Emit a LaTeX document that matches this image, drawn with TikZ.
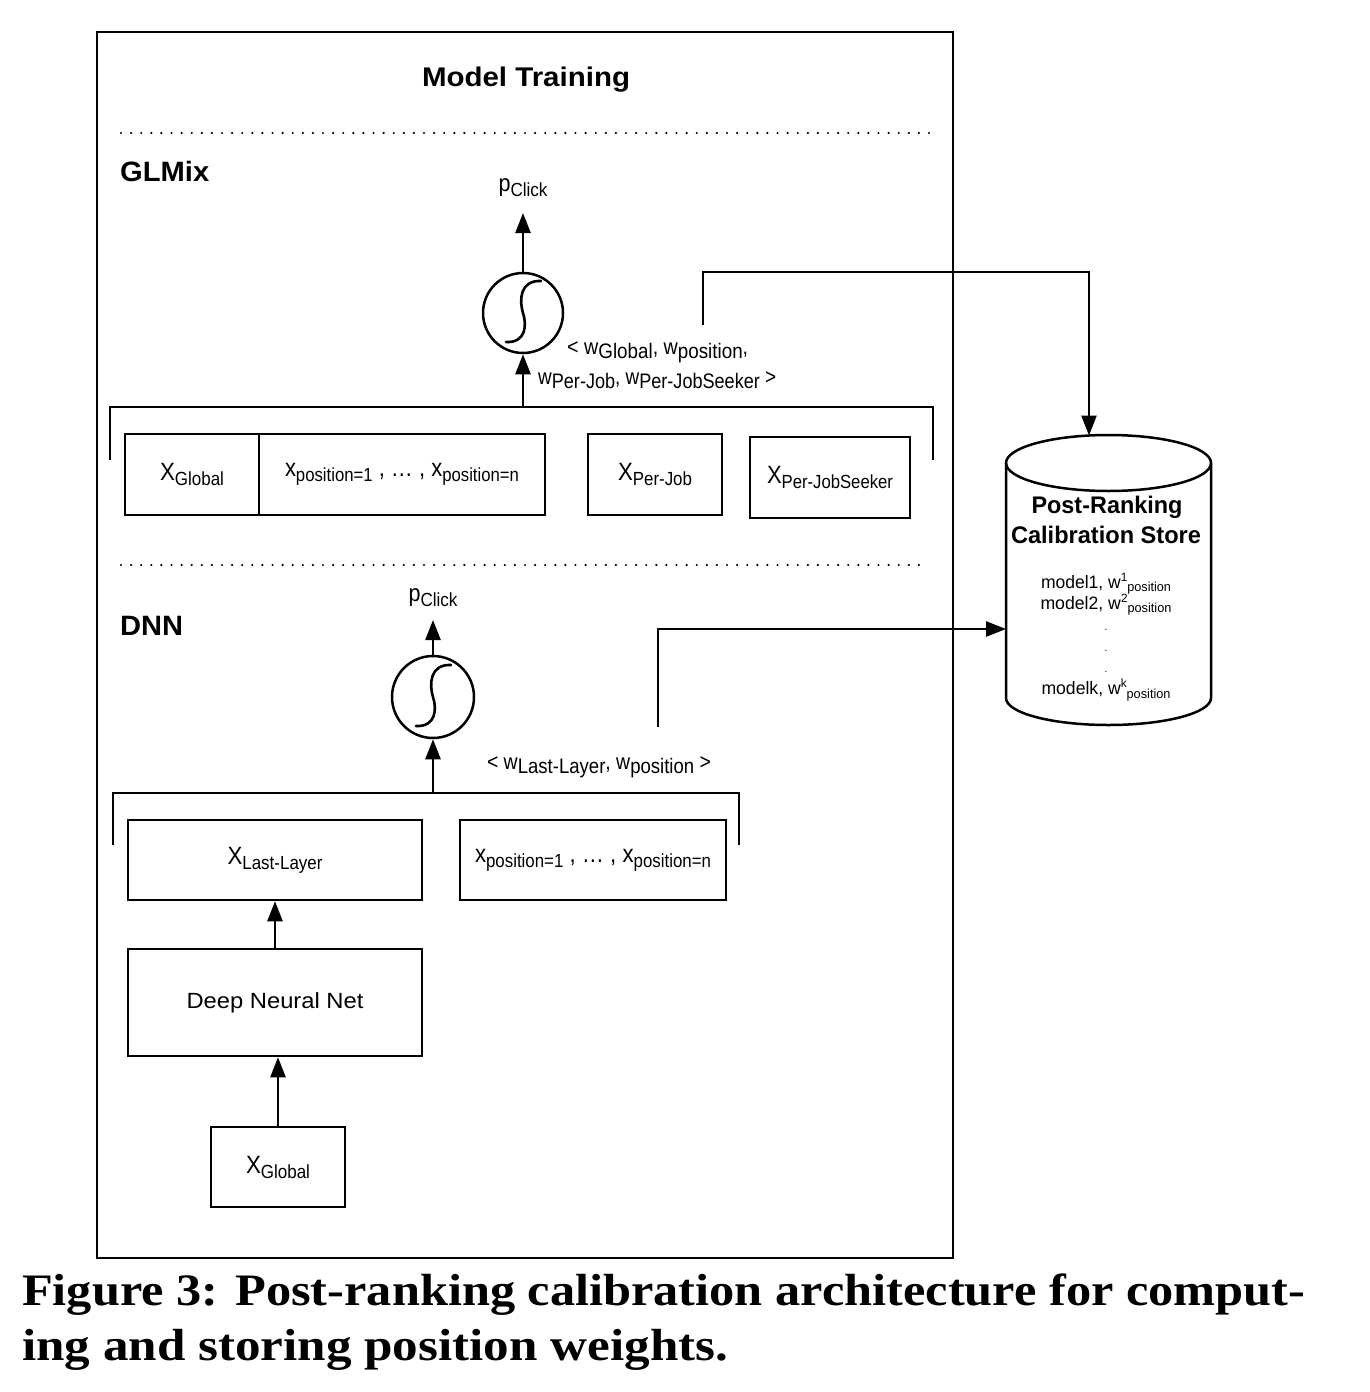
\documentclass[tikz,border=0pt]{standalone}
\usepackage{fontspec}
\usepackage{graphicx}
\setmainfont{Liberation Sans}
\newfontfamily\capfont{Liberation Serif}
\usetikzlibrary{arrows.meta}
\newcommand\fs[1]{\fontsize{#1}{#1}\selectfont}
\newcommand\fitw[2]{\resizebox{#1pt}{\height}{#2}}
\newcommand\lo[2][19]{\raisebox{-0.2em}{\fs{#1}#2}}
\newcommand\hi[2][12]{\raisebox{0.36em}{\fs{#1}#2}}
\begin{document}
\begin{tikzpicture}[x=1pt,y=-1pt,
  ln/.style={line width=2.5pt},
  box/.style={draw,line width=2.5pt,inner sep=0pt,minimum height=81pt},
  txt/.style={inner sep=0pt},
  arr/.style={line width=2.5pt,-{Triangle[length=20pt,width=15pt]}},
  dotline/.style={line width=2.4pt,line cap=round,dash pattern=on 0pt off 10.1pt},
  sig/.style={circle,draw,line width=2.5pt,minimum size=80pt,inner sep=0pt},
  scurve/.style={line width=2.6pt,line cap=round}]
\useasboundingbox (0,0) rectangle (1370,1392);
\fill[white] (0,0) rectangle (1370,1392);
% outer frame
\node[draw,line width=2.5pt,inner sep=0pt,minimum width=856pt,minimum height=1226pt] (outer) at (525,645) {};
\node[txt] (title) at (526,80) {\fitw{208}{\fs{27}\bfseries Model Training}};
\draw[dotline] (121,133) -- (935,133);
\draw[dotline] (121,565) -- (925,565);
% GLMix
\node[txt,anchor=west] (glmix) at (120,171) {\fitw{89}{\fs{28}\bfseries GLMix}};
\node[txt] (p1) at (523,188) {\fitw{49}{\fs{24}p\lo[19]{Click}}};
\node[sig] (s1) at (523,313) {};
\draw[scurve,shift={(s1.center)}] (-17,29) .. controls (3,30) and (4,12) .. (0,0) .. controls (-4,-13) and (-3,-33) .. (18,-32);
\draw[arr] (s1.north) -- ([yshift=-25pt]p1.center);
\draw[ln] (110,460) -- (110,407) -- (933,407) -- (933,460);
\coordinate (b1) at (523,407);
\draw[arr] (b1) -- (s1.south);
\node[txt,anchor=west] (l1a) at (567,352) {\fitw{181}{\fs{22}< w\lo[21]{Global}, w\lo[21]{position},}};
\node[txt,anchor=west] (l1b) at (538,380) {\fitw{238}{\fs{22}w\lo[21]{Per-Job}, w\lo[21]{Per-JobSeeker} >}};
\node[box,minimum width=134pt] (xg1) at (192,474.5) {\fitw{64}{\fs{25}X\lo{Global}}};
\node[box,minimum width=286pt] (xp1) at (402,474.5) {\fitw{234}{\fs{25}x\lo{position=1} , … , x\lo{position=n}}};
\node[box,minimum width=134pt] (xj) at (655,474.5) {\fitw{74}{\fs{25}X\lo{Per-Job}}};
\node[box,minimum width=160pt] (xs) at (830,477.5) {\fitw{126}{\fs{25}X\lo{Per-JobSeeker}}};
% DNN
\node[txt,anchor=west] (dnnl) at (120,626) {\fitw{63}{\fs{28}\bfseries DNN}};
\node[txt] (p2) at (433,598) {\fitw{49}{\fs{24}p\lo[19]{Click}}};
\node[sig,minimum size=82pt] (s2) at (433,697) {};
\draw[scurve,shift={(s2.center)}] (-17,29) .. controls (3,30) and (4,12) .. (0,0) .. controls (-4,-13) and (-3,-33) .. (18,-32);
\draw[arr] (s2.north) -- ([yshift=-22pt]p2.center);
\draw[ln] (113,845) -- (113,793) -- (739,793) -- (739,845);
\coordinate (b2) at (433,793);
\draw[arr] (b2) -- (s2.south);
\node[txt] (l2) at (599,767) {\fitw{224}{\fs{22}< w\lo[21]{Last-Layer}, w\lo[21]{position} >}};
\node[box,minimum width=294pt,minimum height=80pt] (xl) at (275,860) {\fitw{95}{\fs{25}X\lo{Last-Layer}}};
\node[box,minimum width=266pt,minimum height=80pt] (xp2) at (593,860) {\fitw{236}{\fs{25}x\lo{position=1} , … , x\lo{position=n}}};
\node[box,minimum width=294pt,minimum height=107pt] (dnn) at (275,1002.5) {\fitw{177}{\fs{22}Deep Neural Net}};
\node[box,minimum width=134pt,minimum height=80pt] (xg2) at (278,1167) {\fitw{64}{\fs{25}X\lo{Global}}};
\draw[arr] (dnn.north) -- (xl.south);
\draw[arr] (xg2.north) -- (xg2.north |- dnn.south);
% store
\node[inner sep=0pt,minimum width=205pt,minimum height=292pt] (store) at (1108.5,581) {};
\draw[ln] (1006,463) -- (1006,698) arc[start angle=180,end angle=0,x radius=102.5,y radius=27] -- (1211,463);
\draw[ln] (1108.5,463) ellipse[x radius=102.5,y radius=28];
\coordinate (st1) at (1089,435.5);
\coordinate (st2) at (1006,629);
\node[txt] (t1) at (1107,507) {\fitw{151}{\fs{24}\bfseries Post-Ranking}};
\node[txt] (t2) at (1106,535) {\fitw{190}{\fs{24}\bfseries Calibration Store}};
\node[txt] (m1) at (1106,584) {\fitw{130}{\fs{18}model1, w\hi{1}\lo[13]{position}}};
\node[txt] (m2) at (1106,605) {\fitw{131}{\fs{18}model2, w\hi{2}\lo[13]{position}}};
\node[txt] (d1) at (1106,630) {\fs{10}.};
\node[txt] (d2) at (1106,651) {\fs{10}.};
\node[txt] (d3) at (1106,672) {\fs{10}.};
\node[txt] (mk) at (1106,690) {\fitw{129}{\fs{18}modelk, w\hi{k}\lo[13]{position}}};
% connectors to store
\coordinate (c1) at (703,325);
\coordinate (c2) at (658,727);
\draw[arr] (c1) -- (c1 |- 0,272) -| (st1);
\draw[arr] (c2) |- (st2);
% caption
\node[txt,anchor=base west] (cap1) at (22,1305) {\fitw{1283}{\capfont\bfseries\fs{45}Figure 3: Post-ranking calibration architecture for comput-}};
\node[txt,anchor=base west] (cap2) at (22,1360) {\fitw{706}{\capfont\bfseries\fs{45}ing and storing position weights.}};
\end{tikzpicture}
\end{document}
